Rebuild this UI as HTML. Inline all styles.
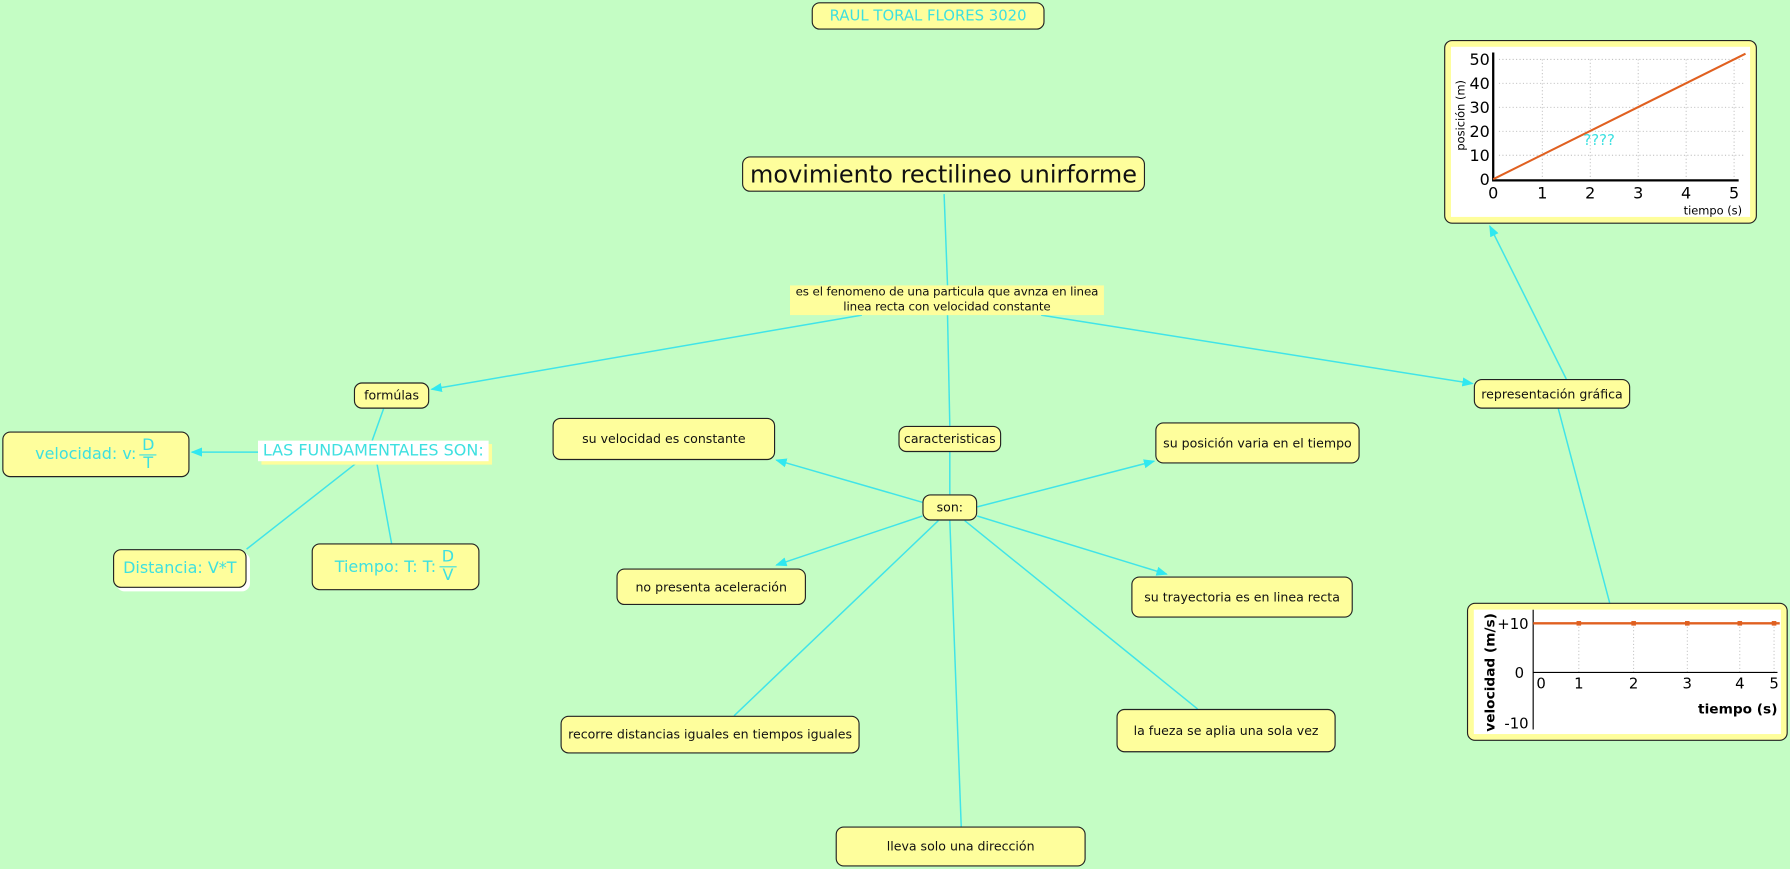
<!DOCTYPE html>
<html><head><meta charset="utf-8"><style>
html,body{margin:0;padding:0;width:1790px;height:869px;overflow:hidden;background:#c4fdc4}
#w{position:absolute;left:0;top:0;width:1568px;height:761px;transform:scale(1.1416);transform-origin:0 0;font-family:"DejaVu Sans","Liberation Sans",sans-serif}
.n{position:absolute;box-sizing:border-box;background:#fefe9c;border:1px solid #222;border-radius:7px;display:flex;align-items:center;justify-content:center;font-size:11px;color:#111;text-align:center;white-space:nowrap}
.c{color:#3ee0e0}
.fr{display:inline-flex;flex-direction:column;align-items:center;vertical-align:middle;margin-left:3px;line-height:15px;font-size:14px}
.fr span:first-child{border-bottom:1.5px solid #3ee0e0;padding:0 2px}
svg{position:absolute;left:0;top:0}
</style></head><body><div id="w">
<svg width="1568" height="761">
<defs><marker id="a" markerWidth="10" markerHeight="8" refX="9" refY="4" orient="auto" markerUnits="userSpaceOnUse"><path d="M0,0 L10,4 L0,8 z" fill="#30e8f0"/></marker></defs>
<g stroke="#40e4e8" stroke-width="1.3" fill="none">
<line x1="827" y1="170" x2="830" y2="250"/>
<line x1="830" y1="276" x2="832" y2="373"/>
<line x1="755" y1="276" x2="378" y2="341" marker-end="url(#a)"/>
<line x1="912" y1="276" x2="1290" y2="336" marker-end="url(#a)"/>
<line x1="336" y1="358" x2="326" y2="386"/>
<line x1="226" y1="396" x2="168" y2="396" marker-end="url(#a)"/>
<line x1="313" y1="405" x2="216" y2="481"/>
<line x1="330" y1="405" x2="343" y2="476"/>
<line x1="832" y1="396" x2="832" y2="433"/>
<line x1="808" y1="440" x2="680" y2="403" marker-end="url(#a)"/>
<line x1="856" y1="444" x2="1011" y2="404" marker-end="url(#a)"/>
<line x1="808" y1="452" x2="680" y2="495" marker-end="url(#a)"/>
<line x1="856" y1="452" x2="1022" y2="503" marker-end="url(#a)"/>
<line x1="822" y1="456" x2="643" y2="627"/>
<line x1="845" y1="456" x2="1049" y2="621"/>
<line x1="832" y1="456" x2="842" y2="724"/>
<line x1="1372" y1="332" x2="1305" y2="198" marker-end="url(#a)"/>
<line x1="1410" y1="528" x2="1365" y2="358"/>
</g></svg>

<div class="n c" style="left:711px;top:2px;width:204px;height:24px;font-size:13px">RAUL TORAL FLORES 3020</div>
<div class="n" style="left:650px;top:137px;width:353px;height:31px;font-size:21px">movimiento rectilineo unirforme</div>
<div style="position:absolute;left:692px;top:250px;width:275px;height:26px;background:#fefe9c;font-size:10.4px;line-height:13px;text-align:center;white-space:nowrap;color:#111;letter-spacing:-0.1px">es el fenomeno de una particula que avnza en linea<br>linea recta con velocidad constante</div>
<div class="n" style="left:310px;top:335px;width:66px;height:23px">formúlas</div>
<div class="n c" style="left:2px;top:378px;width:164px;height:40px;font-size:14px">velocidad: v:<span class="fr"><span>D</span><span>T</span></span></div>
<div style="position:absolute;left:226px;top:386px;width:202px;height:18px;background:#fff;box-shadow:3px 3px 0 #fefe9c;color:#3ee0e0;font-size:14px;line-height:18px;text-align:center;white-space:nowrap">LAS FUNDAMENTALES SON:</div>
<div class="n c" style="left:99px;top:481px;width:117px;height:34px;font-size:14px;box-shadow:3px 3px 0 #fff">Distancia: V*T</div>
<div class="n c" style="left:273px;top:476px;width:147px;height:41px;font-size:14px">Tiempo: T: T:<span class="fr"><span>D</span><span>V</span></span></div>
<div class="n" style="left:484px;top:366px;width:195px;height:37px">su velocidad es constante</div>
<div class="n" style="left:787px;top:373px;width:90px;height:23px">caracteristicas</div>
<div class="n" style="left:808px;top:433px;width:48px;height:23px">son:</div>
<div class="n" style="left:1012px;top:370px;width:179px;height:36px">su posición varia en el tiempo</div>
<div class="n" style="left:540px;top:498px;width:166px;height:32px">no presenta aceleración</div>
<div class="n" style="left:991px;top:505px;width:194px;height:36px">su trayectoria es en linea recta</div>
<div class="n" style="left:491px;top:627px;width:262px;height:33px">recorre distancias iguales en tiempos iguales</div>
<div class="n" style="left:978px;top:621px;width:192px;height:38px">la fueza se aplia una sola vez</div>
<div class="n" style="left:732px;top:724px;width:219px;height:35px">lleva solo una dirección</div>
<div class="n" style="left:1291px;top:332px;width:137px;height:26px">representación gráfica</div>

<div class="n" style="left:1265px;top:35px;width:274px;height:161px;padding:5px">
<svg width="262" height="149" style="position:relative;background:#fff;font-family:'DejaVu Sans',sans-serif">
<g stroke="#bbb" stroke-dasharray="1,2" stroke-width="0.8">
<line x1="42" y1="11" x2="258" y2="11"/><line x1="42" y1="32" x2="258" y2="32"/><line x1="42" y1="53" x2="258" y2="53"/><line x1="42" y1="74" x2="258" y2="74"/><line x1="42" y1="95" x2="258" y2="95"/>
<line x1="80" y1="11" x2="80" y2="117"/><line x1="122" y1="11" x2="122" y2="117"/><line x1="164" y1="11" x2="164" y2="117"/><line x1="206" y1="11" x2="206" y2="117"/><line x1="248" y1="11" x2="248" y2="117"/>
</g>
<line x1="37" y1="5" x2="37" y2="118" stroke="#000" stroke-width="2"/>
<line x1="37" y1="117" x2="252" y2="117" stroke="#000" stroke-width="2"/>
<line x1="37" y1="116" x2="258" y2="6" stroke="#e06020" stroke-width="1.8"/>
<g font-size="14" fill="#000" text-anchor="end">
<text x="34" y="16">50</text><text x="34" y="37">40</text><text x="34" y="58">30</text><text x="34" y="79">20</text><text x="34" y="100">10</text><text x="34" y="121">0</text></g>
<g font-size="14" fill="#000" text-anchor="middle">
<text x="37" y="133">0</text><text x="80" y="133">1</text><text x="122" y="133">2</text><text x="164" y="133">3</text><text x="206" y="133">4</text><text x="248" y="133">5</text></g>
<text x="255" y="147" font-size="10" text-anchor="end">tiempo (s)</text>
<text transform="translate(12,60) rotate(-90)" font-size="10" text-anchor="middle">posición (m)</text>
<text x="116" y="86" font-size="13" fill="#3ee0e0">????</text>
</svg></div>

<div class="n" style="left:1285px;top:528px;width:281px;height:121px;padding:5px">
<svg width="269" height="109" style="position:relative;background:#fff;font-family:'DejaVu Sans',sans-serif">
<g stroke="#bbb" stroke-dasharray="1,2" stroke-width="0.8">
<line x1="92" y1="12" x2="92" y2="55"/><line x1="140" y1="12" x2="140" y2="55"/><line x1="187" y1="12" x2="187" y2="55"/><line x1="233" y1="12" x2="233" y2="55"/><line x1="263" y1="12" x2="263" y2="55"/></g>
<line x1="52" y1="0" x2="52" y2="105" stroke="#000" stroke-width="1"/>
<line x1="52" y1="55" x2="266" y2="55" stroke="#000" stroke-width="1"/>
<line x1="52" y1="12" x2="268" y2="12" stroke="#e06020" stroke-width="2"/>
<g fill="#e06020"><rect x="90" y="10" width="4" height="4"/><rect x="138" y="10" width="4" height="4"/><rect x="185" y="10" width="4" height="4"/><rect x="231" y="10" width="4" height="4"/><rect x="261" y="10" width="4" height="4"/></g>
<g font-size="13" fill="#000" text-anchor="end"><text x="48" y="17">+10</text><text x="44" y="60">0</text><text x="48" y="104">-10</text></g>
<g font-size="13" fill="#000" text-anchor="middle"><text x="59" y="69">0</text><text x="92" y="69">1</text><text x="140" y="69">2</text><text x="187" y="69">3</text><text x="233" y="69">4</text><text x="263" y="69">5</text></g>
<text x="266" y="91" font-size="12" font-weight="bold" text-anchor="end">tiempo (s)</text>
<text transform="translate(18,55) rotate(-90)" font-size="12" font-weight="bold" text-anchor="middle">velocidad (m/s)</text>
</svg></div>
</div></body></html>
